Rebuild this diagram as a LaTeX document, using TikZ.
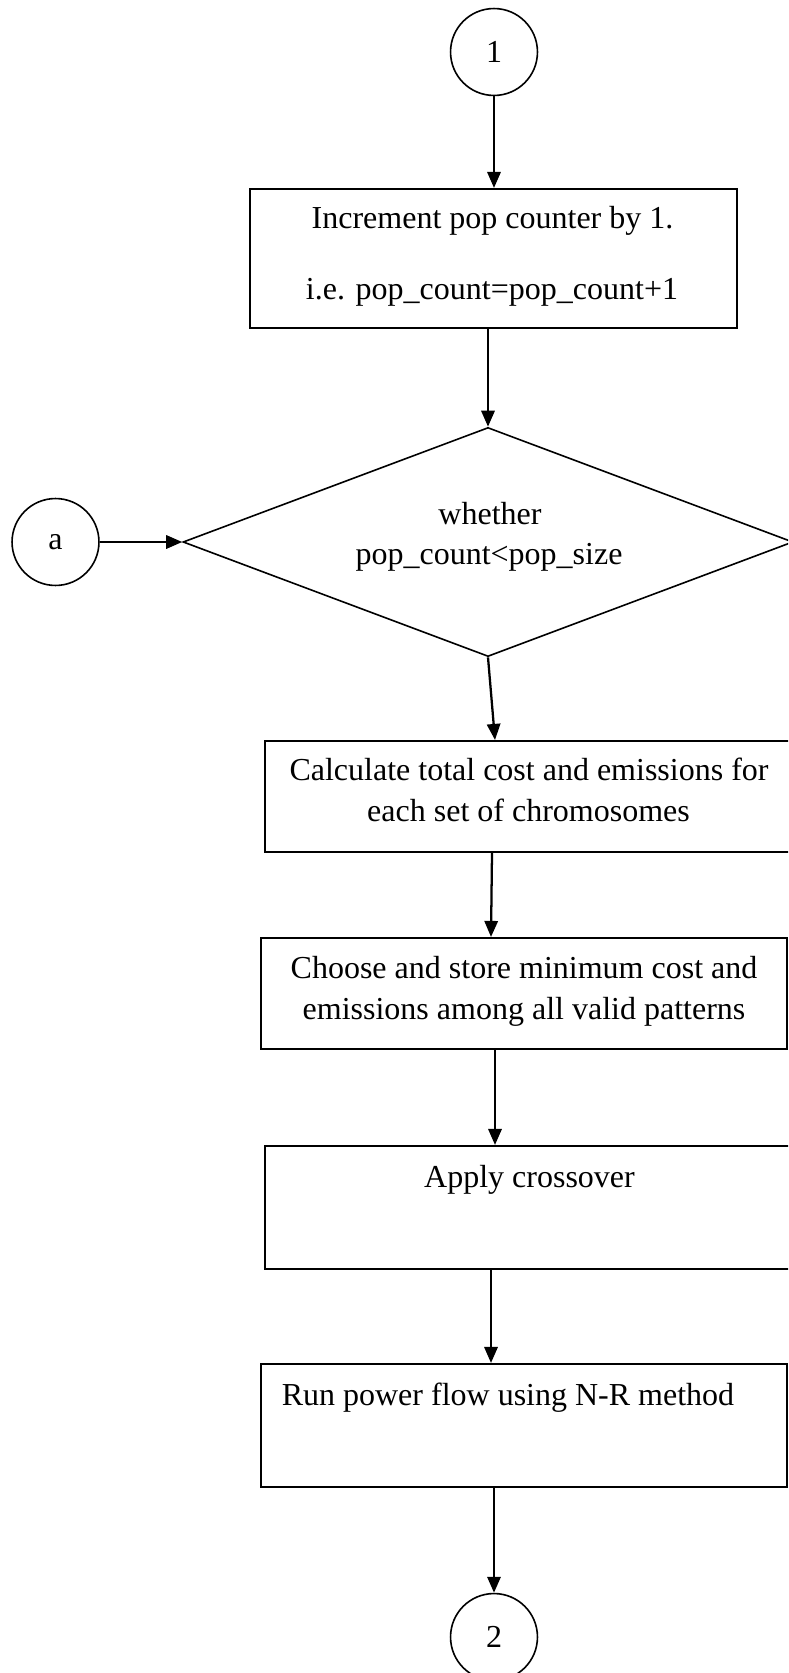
\documentclass[tikz,border=0pt]{standalone}
\usepackage{fontspec}
\setmainfont{Liberation Serif}
\usetikzlibrary{arrows.meta,shapes.geometric,fit}
\tikzset{
  txt/.style={anchor=base, inner sep=0pt, font=\fontsize{12pt}{14pt}\selectfont},
  boxnode/.style={draw, rectangle, line width=0.8pt, inner sep=0pt},
  conn/.style={draw, circle, line width=0.6pt, minimum size=32.6pt, inner sep=0pt, font=\fontsize{12pt}{14pt}\selectfont},
  decision/.style={draw, diamond, line width=0.6pt, minimum width=228.75pt, minimum height=85.9pt, inner sep=0pt},
  arr/.style={line width=0.85pt, -{Triangle[length=6pt,width=5pt]}}
}
\begin{document}
\begin{tikzpicture}[x=0.375pt,y=-0.375pt]
\useasboundingbox (0,0) rectangle (788,1673);
\clip (0,0) rectangle (788,1673);
% guides
\coordinate (g495) at (495,0);
\coordinate (g491) at (491,0);
\coordinate (g492) at (492,0);
% connectors (circles)
\node[conn] (c1) at (494,52) {1};
\node[conn] (ca) at (55.5,542) {a};
\node[conn] (c2) at (494,1637) {2};
% boxes
\node[boxnode, fit={(250,189) (737,328)}] (b1) {};
\node[boxnode, fit={(265,741) (800,852)}] (b2) {};
\node[boxnode, fit={(261,938) (787,1049)}] (b3) {};
\node[boxnode, fit={(265,1146) (800,1269)}] (b4) {};
\node[boxnode, fit={(261,1364) (787,1487)}] (b5) {};
% decision
\node[decision] (d) at (488,542) {};
% texts
\node[txt] (t1a) at (492.5,229) {Increment pop counter by 1.};
\node[txt] (t1b) at (492,299) {i.e. pop\_count=pop\_count+1};
\node[txt] (tda) at (490,524) {whether};
\node[txt] (tdb) at (489,564) {pop\_count<pop\_size};
\node[txt] (t2a) at (529,780) {Calculate total cost and emissions for};
\node[txt] (t2b) at (528.5,821) {each set of chromosomes};
\node[txt] (t3a) at (524,978) {Choose and store minimum cost and};
\node[txt] (t3b) at (524,1019) {emissions among all valid patterns};
\node[txt] (t4) at (529.5,1187) {Apply crossover};
\node[txt] (t5) at (508,1405) {Run power flow using N-R method};
% arrows
\draw[arr] (c1) -- (c1 |- b1.north);
\draw[arr] (b1.south -| d.north) -- (d.north);
\draw[arr] (d.south) -- (b2.north -| g495);
\draw[arr] (b2.south -| g492) -- (b3.north -| g491);
\draw[arr] (b3.south -| g495) -- (b4.north -| g495);
\draw[arr] (b4.south -| g491) -- (b5.north -| g491);
\draw[arr] (b5.south -| c2) -- (c2);
\draw[arr] (ca) -- (d.west);
\end{tikzpicture}
\end{document}
